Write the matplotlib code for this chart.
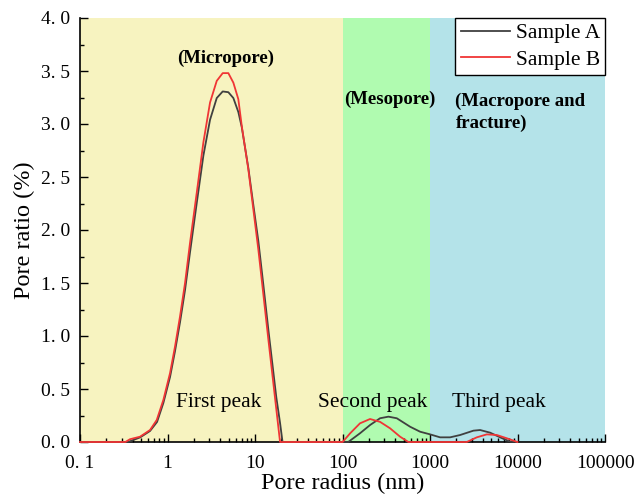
import matplotlib.pyplot as plt
from matplotlib.ticker import FixedLocator, LogLocator, NullFormatter

plt.rcParams['font.family'] = ['Liberation Serif', 'DejaVu Serif']

# pore radius (nm) and pore ratio (%)
rA = [0.1, 0.354, 0.485, 0.631, 0.759, 0.896, 1.068, 1.218, 1.389, 1.585, 1.807, 2.157, 2.566,
      3.06, 3.65, 4.27, 4.95, 5.65, 6.44, 7.05, 8.38, 9.56, 10.9, 12.45, 14.2, 17.5, 19.3, 20.6,
      116, 158, 206, 268, 334, 416, 591, 769, 1000, 1300, 1693, 2203, 3127, 3727, 4850,
      6310, 8200, 9950]
yA = [0, 0, 0.043, 0.104, 0.189, 0.368, 0.613, 0.858, 1.13, 1.434, 1.79, 2.255, 2.70,
      3.04, 3.245, 3.307, 3.30, 3.245, 3.113, 2.97, 2.585, 2.236, 1.896, 1.48, 1.057, 0.42, 0.18, 0,
      0, 0.082, 0.16, 0.224, 0.239, 0.224, 0.144, 0.097, 0.072, 0.044, 0.044, 0.066, 0.107, 0.113, 0.088,
      0.044, 0.003, 0]

rB = [0.1, 0.33, 0.372, 0.485, 0.631, 0.753, 0.896, 1.068, 1.218, 1.389, 1.585, 1.807, 2.157,
      2.566, 3.06, 3.65, 4.27, 4.95, 5.65, 6.44, 7.05, 8.38, 9.56, 10.9, 12.45, 14.2, 19.3,
      100, 122, 158, 206, 268, 349, 454, 565,
      2625, 3415, 4450, 5780, 7530, 9950]
yB = [0, 0, 0.026, 0.050, 0.113, 0.208, 0.397, 0.650, 0.901, 1.185, 1.50, 1.879, 2.352,
      2.825, 3.203, 3.407, 3.48, 3.48, 3.39, 3.234, 2.98, 2.572, 2.194, 1.816, 1.39, 0.965, 0,
      0, 0.082, 0.176, 0.217, 0.19, 0.129, 0.05, 0,
      0, 0.044, 0.072, 0.066, 0.035, 0]

xticks = [0.1, 1, 10, 100, 1000, 10000, 100000]
xticklabels = ['0. 1', '1', '10', '100', '1000', '10000', '100000']
yticks = [0, 0.5, 1.0, 1.5, 2.0, 2.5, 3.0, 3.5, 4.0]
yticklabels = ['0. 0', '0. 5', '1. 0', '1. 5', '2. 0', '2. 5', '3. 0', '3. 5', '4. 0']

fig = plt.figure(figsize=(6.35, 5.0), dpi=100)
ax = fig.add_axes([0.126, 0.116, 0.827, 0.848])

ax.axvspan(0.1, 100, color='#f7f3c0', lw=0, zorder=0)
ax.axvspan(100, 1000, color='#b0fbb0', lw=0, zorder=0)
ax.axvspan(1000, 100000, color='#b4e3e9', lw=0, zorder=0)

ax.plot(rA, yA, color='#404040', lw=1.3, label='Sample A', zorder=3, clip_on=False)
ax.plot(rB, yB, color='#f03535', lw=1.3, label='Sample B', zorder=4, clip_on=False)

ax.set_xscale('log')
ax.set_xlim(0.1, 100000)
ax.set_ylim(0, 4.0)
ax.xaxis.set_major_locator(FixedLocator(xticks))
ax.set_xticklabels(xticklabels)
ax.xaxis.set_minor_locator(LogLocator(base=10, subs=range(2, 10), numticks=20))
ax.xaxis.set_minor_formatter(NullFormatter())
ax.set_yticks(yticks)
ax.set_yticklabels(yticklabels)
ax.yaxis.set_minor_locator(FixedLocator([0.25 + 0.5 * i for i in range(8)]))

ax.tick_params(which='both', direction='in', labelsize=14, top=False, right=False)
ax.tick_params(which='major', length=6, width=1)
ax.tick_params(which='minor', length=3, width=1)
ax.tick_params(axis='x', which='major', pad=9)
ax.tick_params(axis='y', which='major', pad=7)
for s in ['top', 'right']:
    ax.spines[s].set_visible(False)
for s in ['left', 'bottom']:
    ax.spines[s].set_linewidth(1.2)

ax.set_xlabel('Pore radius (nm)', fontsize=17.5, labelpad=1)
ax.set_ylabel('Pore ratio (%)', fontsize=17.5, labelpad=4)

ax.text(4.67, 3.62, '(Micropore)', fontsize=13.5, fontweight='bold', ha='center', va='center')
ax.text(104, 3.23, '(Mesopore)', fontsize=13.5, fontweight='bold', ha='left', va='center')
ax.text(1950, 3.11, '(Macropore and\nfracture)', fontsize=13.5, fontweight='bold',
        ha='left', va='center', linespacing=1.35)
ax.text(3.88, 0.37, 'First peak', fontsize=15.5, ha='center', va='center')
ax.text(223, 0.37, 'Second peak', fontsize=15.5, ha='center', va='center')
ax.text(6150, 0.37, 'Third peak', fontsize=15.5, ha='center', va='center')

leg = ax.legend(loc='upper right', bbox_to_anchor=(1.0, 1.0), borderaxespad=0,
                fontsize=15.5, frameon=True, fancybox=False, framealpha=1, handlelength=2.3,
                handletextpad=0.25, labelspacing=0.3, borderpad=0.25)
leg.get_frame().set_edgecolor('black')
leg.get_frame().set_linewidth(1.0)

fig.savefig('out.png', dpi=100)
